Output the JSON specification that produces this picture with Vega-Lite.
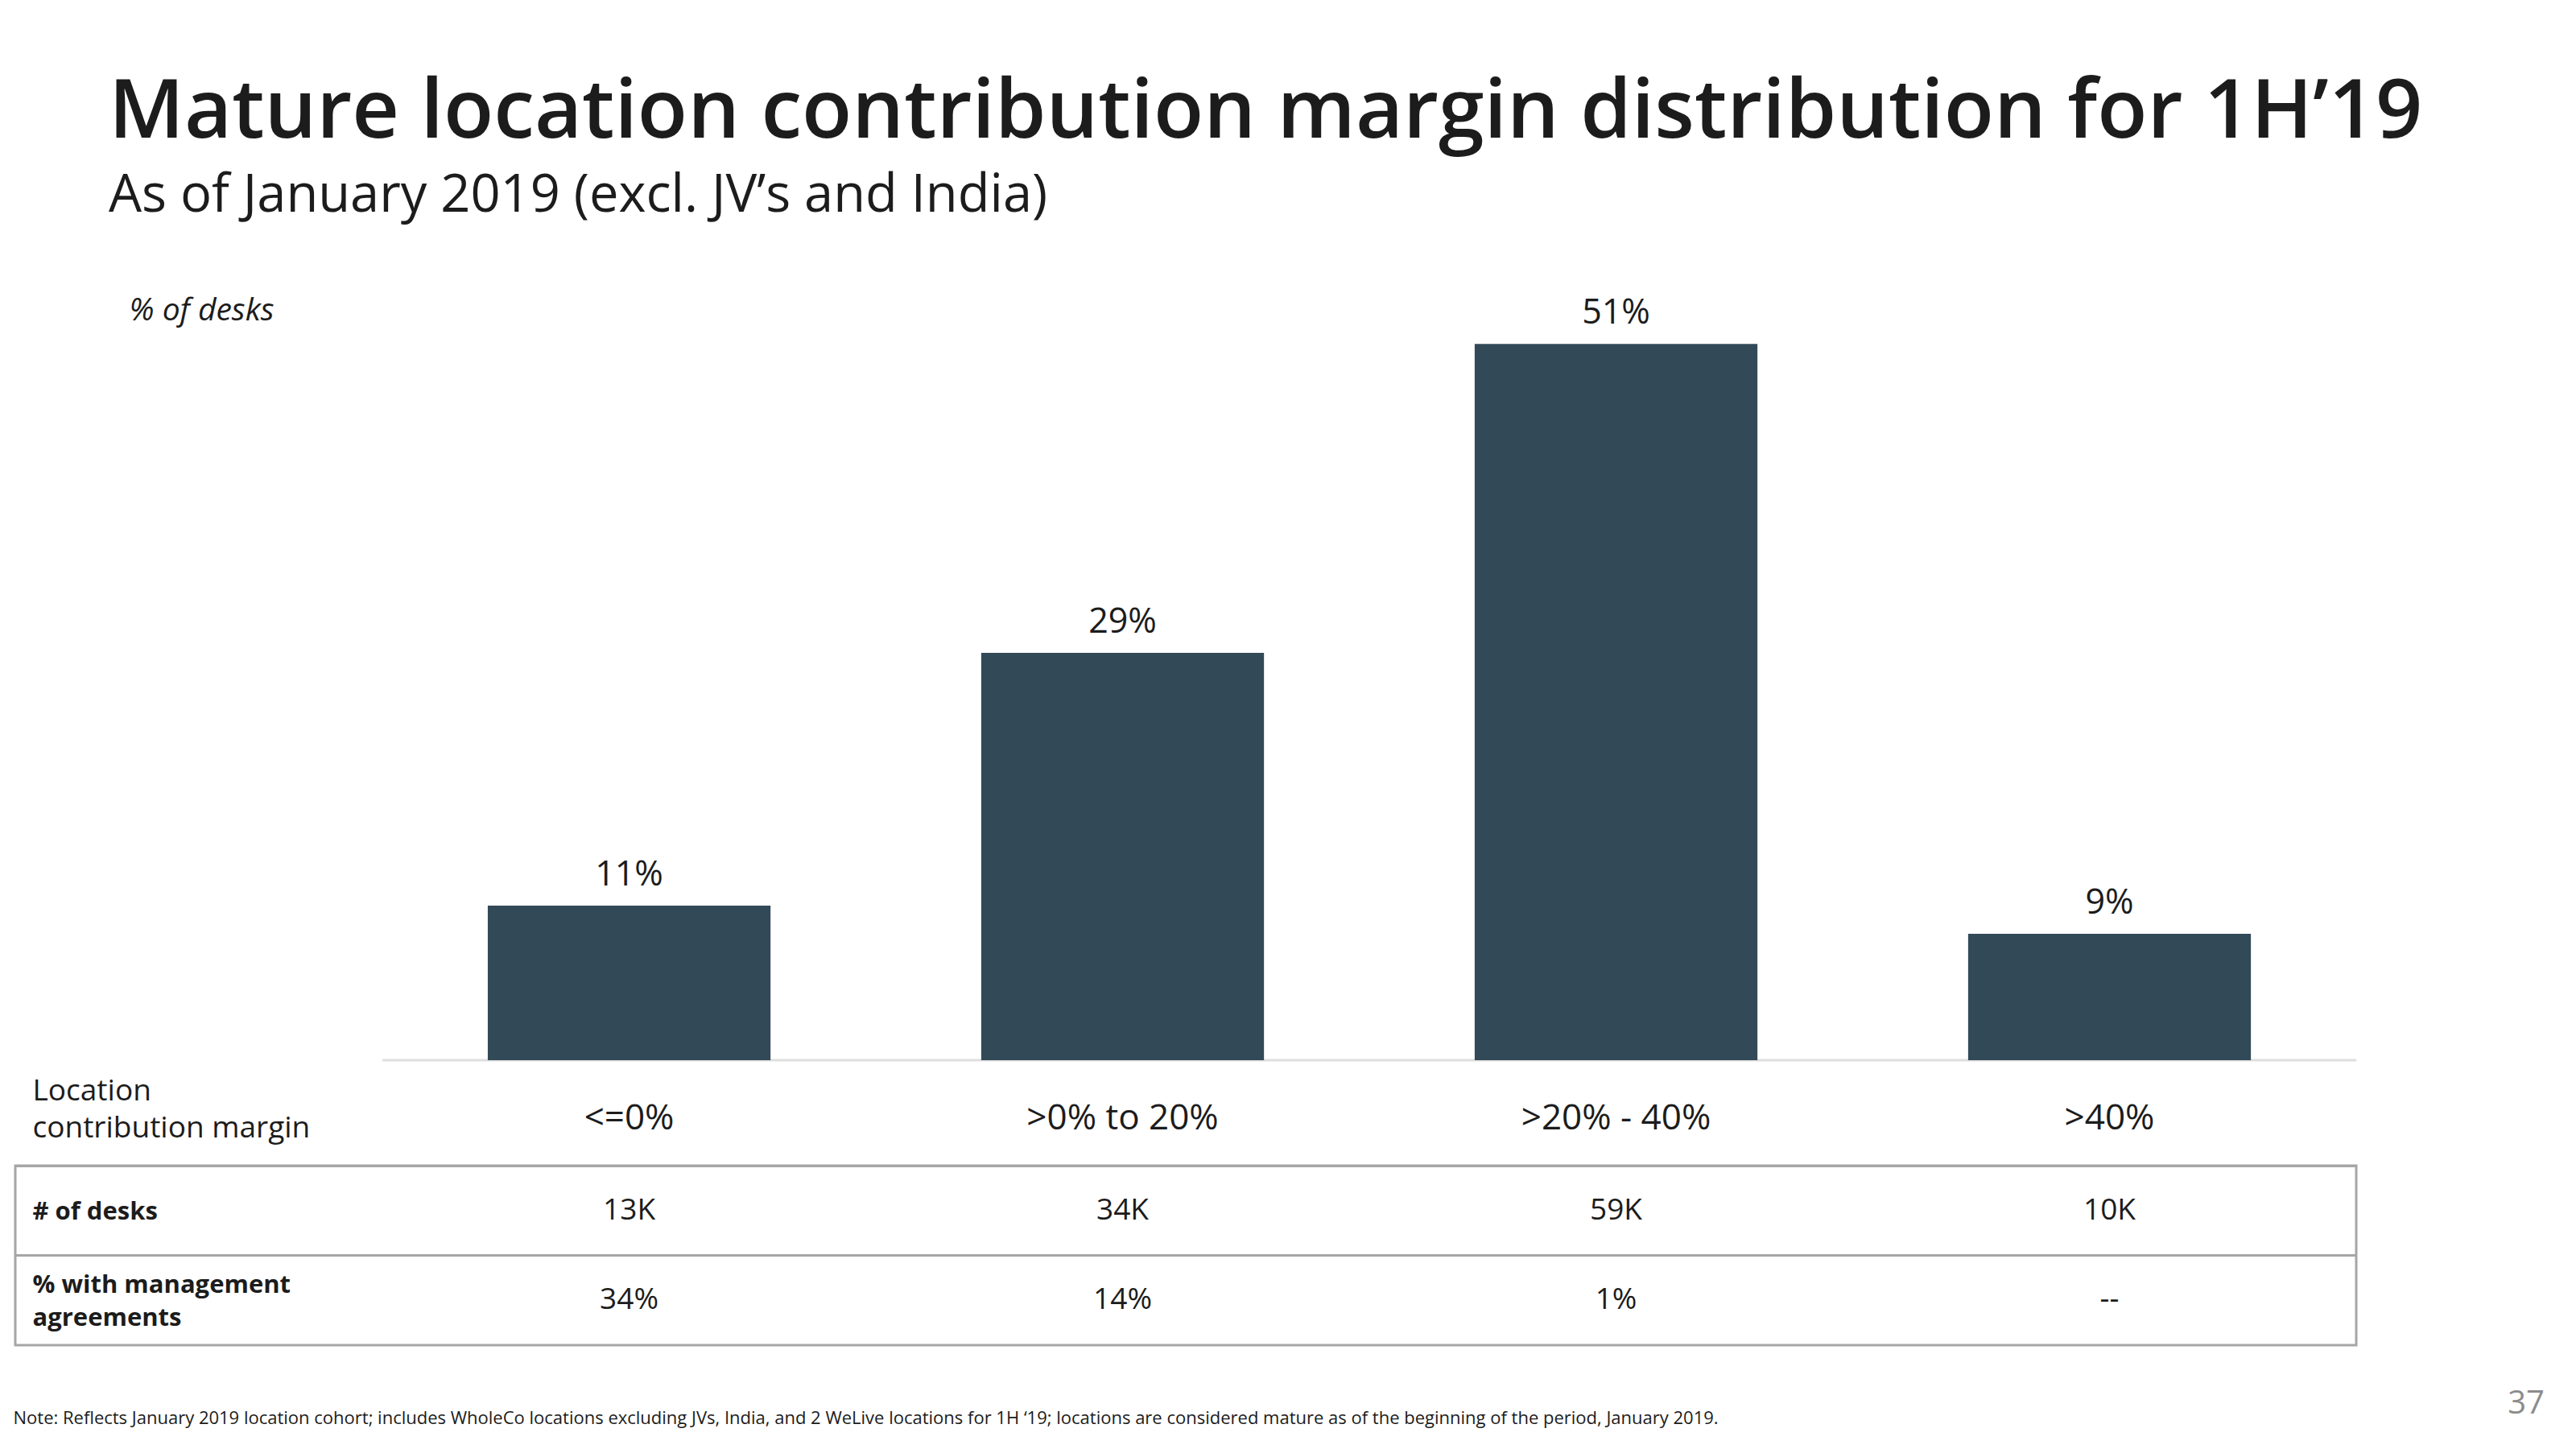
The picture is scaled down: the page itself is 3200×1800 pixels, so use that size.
{
  "$schema": "https://vega.github.io/schema/vega-lite/v6.json",
  "background": "white",
  "padding": {"left": 14, "top": 89, "right": 20, "bottom": 10},
  "title": {
    "text": "Mature location contribution margin distribution for 1H’19",
    "subtitle": "As of January 2019 (excl. JV’s and India)",
    "anchor": "start",
    "frame": "group",
    "dx": 116,
    "font": "Open Sans",
    "fontSize": 102,
    "fontWeight": 600,
    "color": "#1c1c1c",
    "subtitleFont": "Open Sans",
    "subtitleFontSize": 65,
    "subtitleColor": "#1c1c1c",
    "subtitlePadding": 20,
    "offset": 63
  },
  "datasets": {
    "bars": [
      {"margin": "<=0%", "share": 0.11},
      {"margin": ">0% to 20%", "share": 0.29},
      {"margin": ">20% - 40%", "share": 0.51},
      {"margin": ">40%", "share": 0.09}
    ],
    "table": [
      {"margin": "<=0%", "metric": "# of desks", "value": "13K"},
      {"margin": ">0% to 20%", "metric": "# of desks", "value": "34K"},
      {"margin": ">20% - 40%", "metric": "# of desks", "value": "59K"},
      {"margin": ">40%", "metric": "# of desks", "value": "10K"},
      {"margin": "<=0%", "metric": "% with management agreements", "value": "34%"},
      {"margin": ">0% to 20%", "metric": "% with management agreements", "value": "14%"},
      {"margin": ">20% - 40%", "metric": "% with management agreements", "value": "1%"},
      {"margin": ">40%", "metric": "% with management agreements", "value": "--"}
    ]
  },
  "spacing": 131,
  "bounds": "flush",
  "vconcat": [
    {
      "width": 2908,
      "height": 977,
      "view": {"stroke": null},
      "data": {"name": "bars"},
      "encoding": {
        "x": {
          "field": "margin",
          "type": "nominal",
          "sort": null,
          "scale": {"type": "band", "domain": ["<=0%", ">0% to 20%", ">20% - 40%", ">40%"], "paddingInner": 0, "paddingOuter": 0.372, "align": 1},
          "axis": {
            "title": ["Location", "contribution margin"],
            "titleX": 21,
            "titleY": 49,
            "titleAlign": "left",
            "titleBaseline": "alphabetic",
            "titleFontSize": 37,
            "titleFontWeight": "normal",
            "titleColor": "#1c1c1c",
            "titleLineHeight": 46,
            "titleLimit": 0,
            "labelFontSize": 44,
            "labelColor": "#1c1c1c",
            "labelPadding": 50,
            "labelAngle": 0,
            "labelLimit": 0,
            "domain": false,
            "ticks": false,
            "grid": false
          }
        }
      },
      "layer": [
        {
          "mark": {"type": "bar", "width": {"band": 1}, "fill": "transparent", "stroke": "#dedede", "strokeWidth": 3},
          "encoding": {
            "y": {"datum": 0, "type": "quantitative", "scale": {"domain": [0, 0.56], "nice": false}},
            "y2": {"datum": 0}
          }
        },
        {
          "mark": {"type": "bar", "width": {"band": 0.573}, "color": "#324957"},
          "encoding": {
            "y": {
              "field": "share",
              "type": "quantitative",
              "scale": {"domain": [0, 0.56], "nice": false},
              "axis": {
                "title": "% of desks",
                "titleAngle": 0,
                "titleX": 141,
                "titleY": 57,
                "titleAlign": "left",
                "titleBaseline": "alphabetic",
                "titleFontSize": 39,
                "titleFontStyle": "italic",
                "titleFontWeight": "normal",
                "titleColor": "#1c1c1c",
                "labels": false,
                "ticks": false,
                "domain": false,
                "grid": false
              }
            }
          }
        },
        {
          "mark": {"type": "text", "dy": -25, "baseline": "alphabetic", "fontSize": 43, "fontWeight": 500, "color": "#1c1c1c"},
          "encoding": {
            "y": {"field": "share", "type": "quantitative"},
            "text": {"field": "share", "type": "quantitative", "format": ".0%"}
          }
        }
      ]
    },
    {
      "width": 2908,
      "height": 223,
      "view": {"stroke": "#a6a6a6", "strokeWidth": 3},
      "data": {"name": "table"},
      "title": {
        "text": "37",
        "orient": "bottom",
        "anchor": "end",
        "frame": "group",
        "dx": 234,
        "offset": -48,
        "font": "Open Sans",
        "fontSize": 40,
        "fontWeight": "normal",
        "color": "#8c8c8c"
      },
      "mark": {"type": "text", "fontSize": 37, "color": "#1c1c1c", "baseline": "middle"},
      "encoding": {
        "x": {
          "field": "margin",
          "type": "nominal",
          "sort": null,
          "scale": {"type": "band", "domain": ["<=0%", ">0% to 20%", ">20% - 40%", ">40%"], "paddingInner": 0, "paddingOuter": 0.372, "align": 1},
          "axis": {
            "title": "Note: Reflects January 2019 location cohort; includes WholeCo locations excluding JVs, India, and 2 WeLive locations for 1H ‘19; locations are considered mature as of the beginning of the period, January 2019.",
            "labels": false,
            "ticks": false,
            "domain": false,
            "grid": false,
            "titleX": -3,
            "titleY": 97,
            "titleAlign": "left",
            "titleBaseline": "alphabetic",
            "titleFontSize": 22,
            "titleFontWeight": "normal",
            "titleColor": "#1c1c1c",
            "titleLimit": 0
          }
        },
        "y": {
          "field": "metric",
          "type": "nominal",
          "sort": null,
          "scale": {"type": "band", "paddingInner": 0, "paddingOuter": 0},
          "axis": {
            "title": null,
            "labelAlign": "left",
            "labelPadding": -21,
            "labelLimit": 0,
            "labelOffset": {"condition": {"test": "datum.value == '% with management agreements'", "value": -18}, "value": 2},
            "ticks": false,
            "tickSize": 0,
            "domain": false,
            "grid": true,
            "bandPosition": 0,
            "gridColor": "#a6a6a6",
            "gridWidth": 3,
            "labelFontSize": 31,
            "labelFontWeight": "bold",
            "labelColor": "#1c1c1c",
            "labelBaseline": "middle",
            "labelLineHeight": 41,
            "labelExpr": "datum.label == '% with management agreements' ? ['% with management', 'agreements'] : datum.label"
          }
        },
        "text": {"field": "value"}
      }
    }
  ],
  "config": {
    "font": "Open Sans",
    "view": {"stroke": null},
    "axis": {"labelFont": "Open Sans", "titleFont": "Open Sans"},
    "text": {"font": "Open Sans"}
  }
}
